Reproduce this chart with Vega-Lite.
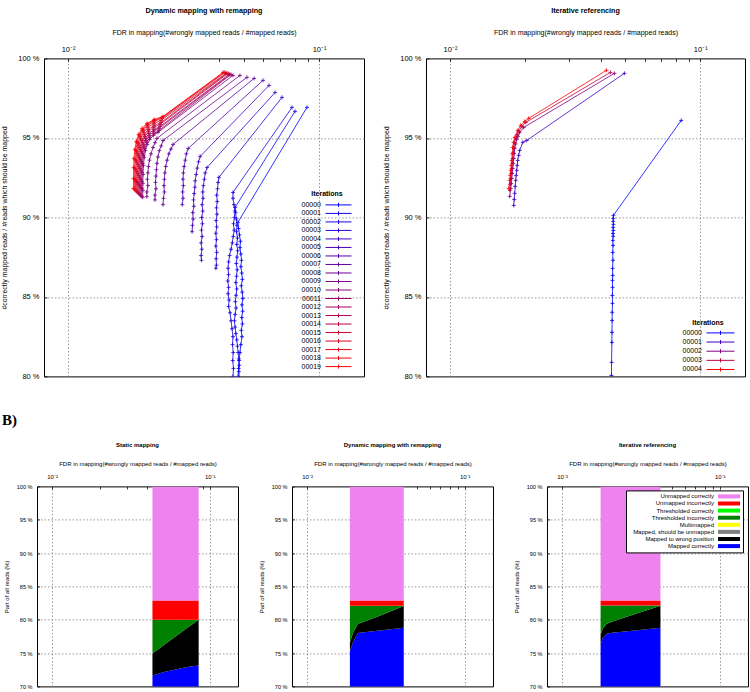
{
"$schema": "https://vega.github.io/schema/vega-lite/v6.json",
"padding": {"left": 0, "top": 6.4, "right": 0, "bottom": 0},
"config": {
  "font": "Liberation Sans",
  "view": {"stroke": "black", "strokeWidth": 1},
  "axis": {"grid": true, "gridDash": [1.5, 2], "gridColor": "#7f7f7f", "gridWidth": 0.8, "domain": false, "tickColor": "black", "tickWidth": 0.8, "labelColor": "black", "titleColor": "black", "titleFontWeight": "normal", "labelFlush": false},
  "title": {"color": "black", "fontWeight": "bold", "anchor": "middle"},
  "legend": {"labelColor": "black", "titleColor": "black"}
},
"datasets": {
"tl": [
{"s":"00000","o":0,"x":0.0895,"y":96.92},{"s":"00000","o":1,"x":0.0475,"y":89.69},{"s":"00000","o":2,"x":0.0478,"y":89.3},{"s":"00000","o":3,"x":0.0482,"y":88.9},{"s":"00000","o":4,"x":0.0486,"y":88.5},{"s":"00000","o":5,"x":0.0484,"y":88.1},{"s":"00000","o":6,"x":0.0488,"y":87.7},{"s":"00000","o":7,"x":0.0491,"y":87.3},{"s":"00000","o":8,"x":0.0488,"y":86.9},{"s":"00000","o":9,"x":0.0492,"y":86.5},{"s":"00000","o":10,"x":0.0495,"y":86.1},{"s":"00000","o":11,"x":0.049,"y":85.7},{"s":"00000","o":12,"x":0.0494,"y":85.3},{"s":"00000","o":13,"x":0.0497,"y":84.9},{"s":"00000","o":14,"x":0.0493,"y":84.5},{"s":"00000","o":15,"x":0.0496,"y":84.1},{"s":"00000","o":16,"x":0.0492,"y":83.7},{"s":"00000","o":17,"x":0.0495,"y":83.3},{"s":"00000","o":18,"x":0.049,"y":82.9},{"s":"00000","o":19,"x":0.0493,"y":82.5},{"s":"00000","o":20,"x":0.0488,"y":82.0},{"s":"00000","o":21,"x":0.0484,"y":81.5},{"s":"00000","o":22,"x":0.048,"y":81.0},{"s":"00000","o":23,"x":0.0478,"y":80.5},{"s":"00000","o":24,"x":0.0476,"y":80.0},
{"s":"00001","o":0,"x":0.0802,"y":96.67},{"s":"00001","o":1,"x":0.0463,"y":90.63},{"s":"00001","o":2,"x":0.0465,"y":90.3},{"s":"00001","o":3,"x":0.0468,"y":89.9},{"s":"00001","o":4,"x":0.0471,"y":89.5},{"s":"00001","o":5,"x":0.0469,"y":89.1},{"s":"00001","o":6,"x":0.0473,"y":88.7},{"s":"00001","o":7,"x":0.047,"y":88.3},{"s":"00001","o":8,"x":0.0474,"y":87.9},{"s":"00001","o":9,"x":0.0471,"y":87.5},{"s":"00001","o":10,"x":0.0468,"y":87.1},{"s":"00001","o":11,"x":0.0472,"y":86.7},{"s":"00001","o":12,"x":0.0469,"y":86.3},{"s":"00001","o":13,"x":0.0466,"y":85.9},{"s":"00001","o":14,"x":0.047,"y":85.5},{"s":"00001","o":15,"x":0.0467,"y":85.1},{"s":"00001","o":16,"x":0.0464,"y":84.7},{"s":"00001","o":17,"x":0.0467,"y":84.3},{"s":"00001","o":18,"x":0.0463,"y":83.9},{"s":"00001","o":19,"x":0.046,"y":83.5},{"s":"00001","o":20,"x":0.0463,"y":83.1},{"s":"00001","o":21,"x":0.0466,"y":82.7},{"s":"00001","o":22,"x":0.047,"y":82.3},{"s":"00001","o":23,"x":0.0473,"y":81.9},{"s":"00001","o":24,"x":0.0476,"y":81.5},{"s":"00001","o":25,"x":0.0479,"y":81.1},{"s":"00001","o":26,"x":0.0481,"y":80.7},{"s":"00001","o":27,"x":0.0479,"y":80.3},{"s":"00001","o":28,"x":0.0481,"y":79.9},
{"s":"00002","o":0,"x":0.078,"y":96.92},{"s":"00002","o":1,"x":0.0454,"y":91.57},{"s":"00002","o":2,"x":0.0454,"y":91.2},{"s":"00002","o":3,"x":0.0458,"y":90.8},{"s":"00002","o":4,"x":0.0462,"y":90.4},{"s":"00002","o":5,"x":0.046,"y":90.0},{"s":"00002","o":6,"x":0.0456,"y":89.6},{"s":"00002","o":7,"x":0.0459,"y":89.2},{"s":"00002","o":8,"x":0.0455,"y":88.8},{"s":"00002","o":9,"x":0.0451,"y":88.4},{"s":"00002","o":10,"x":0.0446,"y":88.0},{"s":"00002","o":11,"x":0.044,"y":87.6},{"s":"00002","o":12,"x":0.0436,"y":87.2},{"s":"00002","o":13,"x":0.0434,"y":86.8},{"s":"00002","o":14,"x":0.0436,"y":86.4},{"s":"00002","o":15,"x":0.0433,"y":86.0},{"s":"00002","o":16,"x":0.0436,"y":85.6},{"s":"00002","o":17,"x":0.0434,"y":85.2},{"s":"00002","o":18,"x":0.0438,"y":84.8},{"s":"00002","o":19,"x":0.0436,"y":84.4},{"s":"00002","o":20,"x":0.0442,"y":84.0},{"s":"00002","o":21,"x":0.0446,"y":83.5},{"s":"00002","o":22,"x":0.045,"y":83.0},{"s":"00002","o":23,"x":0.0454,"y":82.5},{"s":"00002","o":24,"x":0.0452,"y":82.0},{"s":"00002","o":25,"x":0.0455,"y":81.5},{"s":"00002","o":26,"x":0.0453,"y":81.0},{"s":"00002","o":27,"x":0.0456,"y":80.5},{"s":"00002","o":28,"x":0.0454,"y":80.0},
{"s":"00003","o":0,"x":0.0712,"y":97.55},{"s":"00003","o":1,"x":0.0399,"y":92.52},{"s":"00003","o":2,"x":0.0396,"y":92.2},{"s":"00003","o":3,"x":0.0394,"y":91.8},{"s":"00003","o":4,"x":0.0391,"y":91.4},{"s":"00003","o":5,"x":0.0393,"y":91.0},{"s":"00003","o":6,"x":0.039,"y":90.6},{"s":"00003","o":7,"x":0.0392,"y":90.2},{"s":"00003","o":8,"x":0.0389,"y":89.8},{"s":"00003","o":9,"x":0.0391,"y":89.4},{"s":"00003","o":10,"x":0.0388,"y":89.0},{"s":"00003","o":11,"x":0.039,"y":88.6},{"s":"00003","o":12,"x":0.0388,"y":88.2},{"s":"00003","o":13,"x":0.0391,"y":87.8},{"s":"00003","o":14,"x":0.0389,"y":87.4},{"s":"00003","o":15,"x":0.039,"y":87.0},{"s":"00003","o":16,"x":0.0388,"y":86.8},
{"s":"00004","o":0,"x":0.0668,"y":97.86},{"s":"00004","o":1,"x":0.0358,"y":93.14},{"s":"00004","o":2,"x":0.0352,"y":92.8},{"s":"00004","o":3,"x":0.0349,"y":92.4},{"s":"00004","o":4,"x":0.0346,"y":92.0},{"s":"00004","o":5,"x":0.0344,"y":91.6},{"s":"00004","o":6,"x":0.0345,"y":91.2},{"s":"00004","o":7,"x":0.0342,"y":90.8},{"s":"00004","o":8,"x":0.0344,"y":90.4},{"s":"00004","o":9,"x":0.0341,"y":90.0},{"s":"00004","o":10,"x":0.0343,"y":89.6},{"s":"00004","o":11,"x":0.034,"y":89.2},{"s":"00004","o":12,"x":0.0342,"y":88.8},{"s":"00004","o":13,"x":0.0339,"y":88.4},{"s":"00004","o":14,"x":0.0341,"y":88.0},{"s":"00004","o":15,"x":0.0339,"y":87.6},{"s":"00004","o":16,"x":0.034,"y":87.3},
{"s":"00005","o":0,"x":0.0632,"y":98.3},{"s":"00005","o":1,"x":0.0336,"y":93.84},{"s":"00005","o":2,"x":0.0331,"y":93.5},{"s":"00005","o":3,"x":0.0327,"y":93.1},{"s":"00005","o":4,"x":0.0324,"y":92.7},{"s":"00005","o":5,"x":0.0321,"y":92.3},{"s":"00005","o":6,"x":0.032,"y":91.9},{"s":"00005","o":7,"x":0.0318,"y":91.5},{"s":"00005","o":8,"x":0.0316,"y":91.1},{"s":"00005","o":9,"x":0.0317,"y":90.7},{"s":"00005","o":10,"x":0.0314,"y":90.3},{"s":"00005","o":11,"x":0.0315,"y":89.9},{"s":"00005","o":12,"x":0.0313,"y":89.5},{"s":"00005","o":13,"x":0.0312,"y":89.1},
{"s":"00006","o":0,"x":0.0598,"y":98.62},{"s":"00006","o":1,"x":0.0301,"y":94.34},{"s":"00006","o":2,"x":0.0296,"y":94.0},{"s":"00006","o":3,"x":0.0293,"y":93.6},{"s":"00006","o":4,"x":0.029,"y":93.2},{"s":"00006","o":5,"x":0.0288,"y":92.8},{"s":"00006","o":6,"x":0.0287,"y":92.4},{"s":"00006","o":7,"x":0.0288,"y":92.0},{"s":"00006","o":8,"x":0.0286,"y":91.6},{"s":"00006","o":9,"x":0.0287,"y":91.2},{"s":"00006","o":10,"x":0.0285,"y":90.8},
{"s":"00007","o":0,"x":0.0551,"y":98.74},{"s":"00007","o":1,"x":0.0262,"y":94.59},{"s":"00007","o":2,"x":0.0257,"y":94.3},{"s":"00007","o":3,"x":0.0252,"y":94.0},{"s":"00007","o":4,"x":0.0248,"y":93.6},{"s":"00007","o":5,"x":0.0245,"y":93.2},{"s":"00007","o":6,"x":0.0243,"y":92.8},{"s":"00007","o":7,"x":0.0242,"y":92.4},{"s":"00007","o":8,"x":0.0241,"y":92.0},{"s":"00007","o":9,"x":0.0242,"y":91.6},{"s":"00007","o":10,"x":0.024,"y":91.2},{"s":"00007","o":11,"x":0.0239,"y":90.8},
{"s":"00008","o":0,"x":0.0516,"y":98.81},{"s":"00008","o":1,"x":0.0239,"y":94.84},{"s":"00008","o":2,"x":0.0235,"y":94.5},{"s":"00008","o":3,"x":0.0231,"y":94.2},{"s":"00008","o":4,"x":0.0228,"y":93.8},{"s":"00008","o":5,"x":0.0226,"y":93.4},{"s":"00008","o":6,"x":0.0225,"y":93.0},{"s":"00008","o":7,"x":0.0224,"y":92.6},{"s":"00008","o":8,"x":0.0223,"y":92.2},{"s":"00008","o":9,"x":0.0224,"y":91.8},{"s":"00008","o":10,"x":0.0222,"y":91.4},{"s":"00008","o":11,"x":0.0222,"y":91.1},
{"s":"00009","o":0,"x":0.0484,"y":98.93},{"s":"00009","o":1,"x":0.0226,"y":94.97},{"s":"00009","o":2,"x":0.0222,"y":94.7},{"s":"00009","o":3,"x":0.0218,"y":94.4},{"s":"00009","o":4,"x":0.0214,"y":94.0},{"s":"00009","o":5,"x":0.0211,"y":93.6},{"s":"00009","o":6,"x":0.0209,"y":93.2},{"s":"00009","o":7,"x":0.0208,"y":92.8},{"s":"00009","o":8,"x":0.0207,"y":92.4},{"s":"00009","o":9,"x":0.0208,"y":92.0},{"s":"00009","o":10,"x":0.0206,"y":91.6},{"s":"00009","o":11,"x":0.0206,"y":91.3},
{"s":"00010","o":0,"x":0.04541,"y":98.93},{"s":"00010","o":1,"x":0.02282,"y":95.35},{"s":"00010","o":2,"x":0.0219,"y":95.16},{"s":"00010","o":3,"x":0.02116,"y":94.91},{"s":"00010","o":4,"x":0.02067,"y":94.59},{"s":"00010","o":5,"x":0.02033,"y":94.21},{"s":"00010","o":6,"x":0.02011,"y":93.77},{"s":"00010","o":7,"x":0.01997,"y":93.27},{"s":"00010","o":8,"x":0.01989,"y":92.7},{"s":"00010","o":9,"x":0.01986,"y":92.14},{"s":"00010","o":10,"x":0.01985,"y":91.7},{"s":"00010","o":11,"x":0.01983,"y":91.26},
{"s":"00011","o":0,"x":0.04459,"y":98.99},{"s":"00011","o":1,"x":0.02303,"y":95.47},{"s":"00011","o":2,"x":0.02198,"y":95.28},{"s":"00011","o":3,"x":0.02114,"y":95.03},{"s":"00011","o":4,"x":0.02059,"y":94.72},{"s":"00011","o":5,"x":0.02021,"y":94.34},{"s":"00011","o":6,"x":0.01996,"y":93.9},{"s":"00011","o":7,"x":0.0198,"y":93.4},{"s":"00011","o":8,"x":0.01971,"y":92.83},{"s":"00011","o":9,"x":0.01968,"y":92.26},{"s":"00011","o":10,"x":0.01966,"y":91.82},{"s":"00011","o":11,"x":0.01965,"y":91.32},
{"s":"00012","o":0,"x":0.04418,"y":98.99},{"s":"00012","o":1,"x":0.02303,"y":95.6},{"s":"00012","o":2,"x":0.02192,"y":95.41},{"s":"00012","o":3,"x":0.02103,"y":95.16},{"s":"00012","o":4,"x":0.02044,"y":94.84},{"s":"00012","o":5,"x":0.02005,"y":94.47},{"s":"00012","o":6,"x":0.01979,"y":94.03},{"s":"00012","o":7,"x":0.01963,"y":93.52},{"s":"00012","o":8,"x":0.01953,"y":92.96},{"s":"00012","o":9,"x":0.0195,"y":92.39},{"s":"00012","o":10,"x":0.01948,"y":91.89},{"s":"00012","o":11,"x":0.01946,"y":91.38},
{"s":"00013","o":0,"x":0.04378,"y":98.99},{"s":"00013","o":1,"x":0.02325,"y":95.72},{"s":"00013","o":2,"x":0.022,"y":95.53},{"s":"00013","o":3,"x":0.02101,"y":95.28},{"s":"00013","o":4,"x":0.02037,"y":94.97},{"s":"00013","o":5,"x":0.01993,"y":94.59},{"s":"00013","o":6,"x":0.01964,"y":94.15},{"s":"00013","o":7,"x":0.01946,"y":93.65},{"s":"00013","o":8,"x":0.01935,"y":93.08},{"s":"00013","o":9,"x":0.01931,"y":92.52},{"s":"00013","o":10,"x":0.0193,"y":92.01},{"s":"00013","o":11,"x":0.01928,"y":91.45},
{"s":"00014","o":0,"x":0.04338,"y":99.06},{"s":"00014","o":1,"x":0.02325,"y":95.85},{"s":"00014","o":2,"x":0.02194,"y":95.66},{"s":"00014","o":3,"x":0.02091,"y":95.41},{"s":"00014","o":4,"x":0.02024,"y":95.09},{"s":"00014","o":5,"x":0.01978,"y":94.72},{"s":"00014","o":6,"x":0.01948,"y":94.28},{"s":"00014","o":7,"x":0.01929,"y":93.77},{"s":"00014","o":8,"x":0.01917,"y":93.21},{"s":"00014","o":9,"x":0.01914,"y":92.64},{"s":"00014","o":10,"x":0.01912,"y":92.08},{"s":"00014","o":11,"x":0.0191,"y":91.51},
{"s":"00015","o":0,"x":0.04298,"y":99.06},{"s":"00015","o":1,"x":0.02346,"y":95.97},{"s":"00015","o":2,"x":0.02202,"y":95.79},{"s":"00015","o":3,"x":0.02089,"y":95.53},{"s":"00015","o":4,"x":0.02016,"y":95.22},{"s":"00015","o":5,"x":0.01966,"y":94.84},{"s":"00015","o":6,"x":0.01933,"y":94.4},{"s":"00015","o":7,"x":0.01913,"y":93.9},{"s":"00015","o":8,"x":0.01899,"y":93.33},{"s":"00015","o":9,"x":0.01895,"y":92.77},{"s":"00015","o":10,"x":0.01893,"y":92.2},{"s":"00015","o":11,"x":0.01891,"y":91.57},
{"s":"00016","o":0,"x":0.04259,"y":99.06},{"s":"00016","o":1,"x":0.02346,"y":96.1},{"s":"00016","o":2,"x":0.02196,"y":95.91},{"s":"00016","o":3,"x":0.02078,"y":95.66},{"s":"00016","o":4,"x":0.02002,"y":95.35},{"s":"00016","o":5,"x":0.0195,"y":94.97},{"s":"00016","o":6,"x":0.01916,"y":94.53},{"s":"00016","o":7,"x":0.01895,"y":94.03},{"s":"00016","o":8,"x":0.01882,"y":93.46},{"s":"00016","o":9,"x":0.01878,"y":92.89},{"s":"00016","o":10,"x":0.01875,"y":92.26},{"s":"00016","o":11,"x":0.01874,"y":91.64},
{"s":"00017","o":0,"x":0.0422,"y":99.12},{"s":"00017","o":1,"x":0.02368,"y":96.23},{"s":"00017","o":2,"x":0.02204,"y":96.04},{"s":"00017","o":3,"x":0.02077,"y":95.79},{"s":"00017","o":4,"x":0.01994,"y":95.47},{"s":"00017","o":5,"x":0.01938,"y":95.09},{"s":"00017","o":6,"x":0.01901,"y":94.65},{"s":"00017","o":7,"x":0.01879,"y":94.15},{"s":"00017","o":8,"x":0.01865,"y":93.58},{"s":"00017","o":9,"x":0.01861,"y":93.02},{"s":"00017","o":10,"x":0.01858,"y":92.33},{"s":"00017","o":11,"x":0.01856,"y":91.7},
{"s":"00018","o":0,"x":0.04182,"y":99.12},{"s":"00018","o":1,"x":0.02368,"y":96.29},{"s":"00018","o":2,"x":0.02198,"y":96.1},{"s":"00018","o":3,"x":0.02067,"y":95.85},{"s":"00018","o":4,"x":0.01981,"y":95.53},{"s":"00018","o":5,"x":0.01923,"y":95.16},{"s":"00018","o":6,"x":0.01885,"y":94.72},{"s":"00018","o":7,"x":0.01862,"y":94.21},{"s":"00018","o":8,"x":0.01848,"y":93.65},{"s":"00018","o":9,"x":0.01843,"y":93.08},{"s":"00018","o":10,"x":0.01841,"y":92.39},{"s":"00018","o":11,"x":0.01839,"y":91.76},
{"s":"00019","o":0,"x":0.04143,"y":99.12},{"s":"00019","o":1,"x":0.0239,"y":96.35},{"s":"00019","o":2,"x":0.02206,"y":96.16},{"s":"00019","o":3,"x":0.02065,"y":95.91},{"s":"00019","o":4,"x":0.01973,"y":95.6},{"s":"00019","o":5,"x":0.01911,"y":95.22},{"s":"00019","o":6,"x":0.0187,"y":94.78},{"s":"00019","o":7,"x":0.01846,"y":94.28},{"s":"00019","o":8,"x":0.01831,"y":93.71},{"s":"00019","o":9,"x":0.01826,"y":93.14},{"s":"00019","o":10,"x":0.01823,"y":92.45},{"s":"00019","o":11,"x":0.01821,"y":91.82}
],
"tr": [
{"s":"00000","o":0,"x":0.08397,"y":96.1},{"s":"00000","o":1,"x":0.045,"y":90.13},{"s":"00000","o":2,"x":0.04495,"y":89.94},{"s":"00000","o":3,"x":0.0449,"y":89.75},{"s":"00000","o":4,"x":0.045,"y":89.56},{"s":"00000","o":5,"x":0.04485,"y":89.37},{"s":"00000","o":6,"x":0.04495,"y":89.18},{"s":"00000","o":7,"x":0.0448,"y":88.99},{"s":"00000","o":8,"x":0.0449,"y":88.81},{"s":"00000","o":9,"x":0.04475,"y":88.55},{"s":"00000","o":10,"x":0.04485,"y":88.24},{"s":"00000","o":11,"x":0.0447,"y":87.8},{"s":"00000","o":12,"x":0.0448,"y":87.3},{"s":"00000","o":13,"x":0.04465,"y":86.79},{"s":"00000","o":14,"x":0.0447,"y":86.35},{"s":"00000","o":15,"x":0.0446,"y":86.04},{"s":"00000","o":16,"x":0.04465,"y":85.6},{"s":"00000","o":17,"x":0.04455,"y":85.09},{"s":"00000","o":18,"x":0.0446,"y":84.59},{"s":"00000","o":19,"x":0.0445,"y":84.03},{"s":"00000","o":20,"x":0.04445,"y":83.52},{"s":"00000","o":21,"x":0.0444,"y":82.77},{"s":"00000","o":22,"x":0.04435,"y":82.14},{"s":"00000","o":23,"x":0.04425,"y":80.88},{"s":"00000","o":24,"x":0.04418,"y":80.06},
{"s":"00001","o":0,"x":0.04978,"y":99.06},{"s":"00001","o":1,"x":0.02026,"y":94.84},{"s":"00001","o":2,"x":0.01953,"y":94.72},{"s":"00001","o":3,"x":0.01899,"y":94.21},{"s":"00001","o":4,"x":0.01882,"y":93.9},{"s":"00001","o":5,"x":0.01865,"y":93.58},{"s":"00001","o":6,"x":0.01856,"y":93.27},{"s":"00001","o":7,"x":0.01848,"y":92.96},{"s":"00001","o":8,"x":0.01839,"y":92.64},{"s":"00001","o":9,"x":0.01831,"y":92.33},{"s":"00001","o":10,"x":0.01822,"y":91.95},{"s":"00001","o":11,"x":0.01814,"y":91.51},{"s":"00001","o":12,"x":0.01806,"y":91.13},{"s":"00001","o":13,"x":0.01798,"y":90.75},
{"s":"00002","o":0,"x":0.04541,"y":99.06},{"s":"00002","o":1,"x":0.01971,"y":95.66},{"s":"00002","o":2,"x":0.01899,"y":95.35},{"s":"00002","o":3,"x":0.0187,"y":95.1},{"s":"00002","o":4,"x":0.01848,"y":94.91},{"s":"00002","o":5,"x":0.0183,"y":94.62},{"s":"00002","o":6,"x":0.01814,"y":94.34},{"s":"00002","o":7,"x":0.01806,"y":94.02},{"s":"00002","o":8,"x":0.01798,"y":93.71},{"s":"00002","o":9,"x":0.0179,"y":93.4},{"s":"00002","o":10,"x":0.01781,"y":93.08},{"s":"00002","o":11,"x":0.01773,"y":92.77},{"s":"00002","o":12,"x":0.01765,"y":92.45},{"s":"00002","o":13,"x":0.01757,"y":92.13},{"s":"00002","o":14,"x":0.01749,"y":91.82},{"s":"00002","o":15,"x":0.01733,"y":91.32},
{"s":"00003","o":0,"x":0.04378,"y":99.12},{"s":"00003","o":1,"x":0.02007,"y":95.97},{"s":"00003","o":2,"x":0.01935,"y":95.72},{"s":"00003","o":3,"x":0.01882,"y":95.41},{"s":"00003","o":4,"x":0.01855,"y":95.2},{"s":"00003","o":5,"x":0.01831,"y":94.97},{"s":"00003","o":6,"x":0.01812,"y":94.7},{"s":"00003","o":7,"x":0.01798,"y":94.4},{"s":"00003","o":8,"x":0.0179,"y":94.05},{"s":"00003","o":9,"x":0.01781,"y":93.71},{"s":"00003","o":10,"x":0.01773,"y":93.4},{"s":"00003","o":11,"x":0.01765,"y":93.08},{"s":"00003","o":12,"x":0.01757,"y":92.77},{"s":"00003","o":13,"x":0.01749,"y":92.45},{"s":"00003","o":14,"x":0.01741,"y":92.08},{"s":"00003","o":15,"x":0.01733,"y":91.7},
{"s":"00004","o":0,"x":0.0422,"y":99.25},{"s":"00004","o":1,"x":0.02063,"y":96.23},{"s":"00004","o":2,"x":0.01989,"y":96.04},{"s":"00004","o":3,"x":0.01917,"y":95.79},{"s":"00004","o":4,"x":0.01865,"y":95.47},{"s":"00004","o":5,"x":0.01814,"y":95.03},{"s":"00004","o":6,"x":0.01795,"y":94.72},{"s":"00004","o":7,"x":0.01781,"y":94.4},{"s":"00004","o":8,"x":0.01773,"y":94.0},{"s":"00004","o":9,"x":0.01765,"y":93.58},{"s":"00004","o":10,"x":0.01757,"y":93.27},{"s":"00004","o":11,"x":0.01749,"y":92.96},{"s":"00004","o":12,"x":0.01741,"y":92.64},{"s":"00004","o":13,"x":0.01733,"y":92.33},{"s":"00004","o":14,"x":0.01717,"y":91.82}
],
"bs": [
{"x":0.04329,"c":"Mapped correctly","k":1,"v":71.65},{"x":0.04329,"c":"Mapped to wrong position","k":2,"v":3.3},{"x":0.04329,"c":"Thresholded incorrectly","k":5,"v":5.05},{"x":0.04329,"c":"Unmapped incorrectly","k":7,"v":2.9},{"x":0.04329,"c":"Unmapped correctly","k":8,"v":17.1},
{"x":0.05124,"c":"Mapped correctly","k":1,"v":72.15},{"x":0.05124,"c":"Mapped to wrong position","k":2,"v":4.05},{"x":0.05124,"c":"Thresholded incorrectly","k":5,"v":3.8},{"x":0.05124,"c":"Unmapped incorrectly","k":7,"v":2.9},{"x":0.05124,"c":"Unmapped correctly","k":8,"v":17.1},
{"x":0.06065,"c":"Mapped correctly","k":1,"v":72.55},{"x":0.06065,"c":"Mapped to wrong position","k":2,"v":4.95},{"x":0.06065,"c":"Thresholded incorrectly","k":5,"v":2.5},{"x":0.06065,"c":"Unmapped incorrectly","k":7,"v":2.9},{"x":0.06065,"c":"Unmapped correctly","k":8,"v":17.1},
{"x":0.07179,"c":"Mapped correctly","k":1,"v":72.9},{"x":0.07179,"c":"Mapped to wrong position","k":2,"v":5.85},{"x":0.07179,"c":"Thresholded incorrectly","k":5,"v":1.25},{"x":0.07179,"c":"Unmapped incorrectly","k":7,"v":2.9},{"x":0.07179,"c":"Unmapped correctly","k":8,"v":17.1},
{"x":0.085,"c":"Mapped correctly","k":1,"v":73.15},{"x":0.085,"c":"Mapped to wrong position","k":2,"v":6.85},{"x":0.085,"c":"Thresholded incorrectly","k":5,"v":0},{"x":0.085,"c":"Unmapped incorrectly","k":7,"v":2.9},{"x":0.085,"c":"Unmapped correctly","k":8,"v":17.1}
],
"bd": [
{"x":0.01868,"c":"Mapped correctly","k":1,"v":75.3},{"x":0.01868,"c":"Mapped to wrong position","k":2,"v":1.3},{"x":0.01868,"c":"Thresholded incorrectly","k":5,"v":5.5},{"x":0.01868,"c":"Unmapped incorrectly","k":7,"v":0.8},{"x":0.01868,"c":"Unmapped correctly","k":8,"v":17.1},
{"x":0.01952,"c":"Mapped correctly","k":1,"v":76.6},{"x":0.01952,"c":"Mapped to wrong position","k":2,"v":1.4},{"x":0.01952,"c":"Thresholded incorrectly","k":5,"v":4.1},{"x":0.01952,"c":"Unmapped incorrectly","k":7,"v":0.8},{"x":0.01952,"c":"Unmapped correctly","k":8,"v":17.1},
{"x":0.02099,"c":"Mapped correctly","k":1,"v":78.0},{"x":0.02099,"c":"Mapped to wrong position","k":2,"v":1.4},{"x":0.02099,"c":"Thresholded incorrectly","k":5,"v":2.7},{"x":0.02099,"c":"Unmapped incorrectly","k":7,"v":0.8},{"x":0.02099,"c":"Unmapped correctly","k":8,"v":17.1},
{"x":0.02224,"c":"Mapped correctly","k":1,"v":78.1},{"x":0.02224,"c":"Mapped to wrong position","k":2,"v":1.5},{"x":0.02224,"c":"Thresholded incorrectly","k":5,"v":2.5},{"x":0.02224,"c":"Unmapped incorrectly","k":7,"v":0.8},{"x":0.02224,"c":"Unmapped correctly","k":8,"v":17.1},
{"x":0.02892,"c":"Mapped correctly","k":1,"v":78.4},{"x":0.02892,"c":"Mapped to wrong position","k":2,"v":2.2},{"x":0.02892,"c":"Thresholded incorrectly","k":5,"v":1.5},{"x":0.02892,"c":"Unmapped incorrectly","k":7,"v":0.8},{"x":0.02892,"c":"Unmapped correctly","k":8,"v":17.1},
{"x":0.04102,"c":"Mapped correctly","k":1,"v":78.8},{"x":0.04102,"c":"Mapped to wrong position","k":2,"v":3.25},{"x":0.04102,"c":"Thresholded incorrectly","k":5,"v":0.05},{"x":0.04102,"c":"Unmapped incorrectly","k":7,"v":0.8},{"x":0.04102,"c":"Unmapped correctly","k":8,"v":17.1}
],
"bi": [
{"x":0.01754,"c":"Mapped correctly","k":1,"v":76.3},{"x":0.01754,"c":"Mapped to wrong position","k":2,"v":1.5},{"x":0.01754,"c":"Thresholded incorrectly","k":5,"v":4.35},{"x":0.01754,"c":"Unmapped incorrectly","k":7,"v":0.75},{"x":0.01754,"c":"Unmapped correctly","k":8,"v":17.1},
{"x":0.01814,"c":"Mapped correctly","k":1,"v":77.3},{"x":0.01814,"c":"Mapped to wrong position","k":2,"v":1.4},{"x":0.01814,"c":"Thresholded incorrectly","k":5,"v":3.45},{"x":0.01814,"c":"Unmapped incorrectly","k":7,"v":0.75},{"x":0.01814,"c":"Unmapped correctly","k":8,"v":17.1},
{"x":0.01923,"c":"Mapped correctly","k":1,"v":77.9},{"x":0.01923,"c":"Mapped to wrong position","k":2,"v":1.5},{"x":0.01923,"c":"Thresholded incorrectly","k":5,"v":2.75},{"x":0.01923,"c":"Unmapped incorrectly","k":7,"v":0.75},{"x":0.01923,"c":"Unmapped correctly","k":8,"v":17.1},
{"x":0.02069,"c":"Mapped correctly","k":1,"v":78.05},{"x":0.02069,"c":"Mapped to wrong position","k":2,"v":1.65},{"x":0.02069,"c":"Thresholded incorrectly","k":5,"v":2.45},{"x":0.02069,"c":"Unmapped incorrectly","k":7,"v":0.75},{"x":0.02069,"c":"Unmapped correctly","k":8,"v":17.1},
{"x":0.02689,"c":"Mapped correctly","k":1,"v":78.3},{"x":0.02689,"c":"Mapped to wrong position","k":2,"v":2.3},{"x":0.02689,"c":"Thresholded incorrectly","k":5,"v":1.55},{"x":0.02689,"c":"Unmapped incorrectly","k":7,"v":0.75},{"x":0.02689,"c":"Unmapped correctly","k":8,"v":17.1},
{"x":0.04205,"c":"Mapped correctly","k":1,"v":78.8},{"x":0.04205,"c":"Mapped to wrong position","k":2,"v":3.3},{"x":0.04205,"c":"Thresholded incorrectly","k":5,"v":0.05},{"x":0.04205,"c":"Unmapped incorrectly","k":7,"v":0.75},{"x":0.04205,"c":"Unmapped correctly","k":8,"v":17.1}
]
},
"vconcat": [
 {"hconcat": [
   {"width": 1, "height": 1, "view": {"stroke": null}, "data": {"values": [{"a": 1}]}, "mark": "text", "encoding": {"text": {"value": ""}}},
   {"hconcat": [
     {"width": 320, "height": 318,
      "title": {"text": "Dynamic mapping with remapping", "fontSize": 7.2, "offset": 14},
      "data": {"name": "tl"},
      "encoding": {
        "x": {"field": "x", "type": "quantitative", "scale": {"type": "log", "domain": [0.00802, 0.151], "nice": false},
              "axis": {"orient": "top", "values": [0.01,0.02,0.03,0.04,0.05,0.06,0.07,0.08,0.09,0.1], "labelExpr": "datum.value == 0.01 ? '10⁻²' : (datum.value == 0.1 ? '10⁻¹' : '')", "gridOpacity": {"condition": {"test": "datum.value == 0.01 || datum.value == 0.1", "value": 1}, "value": 0}, "tickSize": -3, "labelPadding": 10, "labelBaseline": "alphabetic", "labelFontSize": 7.5, "titleFontSize": 7, "titlePadding": 10},
              "title": "FDR in mapping(#wrongly mapped reads / #mapped reads)"},
        "y": {"field": "y", "type": "quantitative", "scale": {"domain": [80, 100], "nice": false, "zero": false},
              "axis": {"values": [80,85,90,95,100], "labelExpr": "datum.value + ' %'", "gridOpacity": {"condition": {"test": "datum.value > 80 && datum.value < 100", "value": 1}, "value": 0}, "tickSize": -3, "labelPadding": 8, "labelFontSize": 7.5, "titleFontSize": 7, "titlePadding": 10},
              "title": "#correctly mapped reads / #reads which should be mapped"},
        "color": {"field": "s", "type": "nominal",
              "scale": {"domain": ["00000","00001","00002","00003","00004","00005","00006","00007","00008","00009","00010","00011","00012","00013","00014","00015","00016","00017","00018","00019"],
                        "range": ["#0000ff","#0d00f2","#1b00e4","#2800d7","#3600c9","#4300bc","#5100af","#5e00a1","#6b0094","#790086","#860079","#94006b","#a1005e","#af0051","#bc0043","#c90036","#d70028","#e4001b","#f2000d","#ff0000"]},
              "legend": {"orient": "none", "legendX": 256, "legendY": 132, "title": "Iterations", "titleFontSize": 7, "titleFontWeight": "bold", "titleAnchor": "middle", "titlePadding": 4, "symbolType": "M-4.33,0H4.33M0,-0.667V0.667", "symbolSize": 36, "symbolOffset": 35, "symbolStrokeWidth": 1, "symbolFillColor": "transparent", "labelFontSize": 7, "labelAlign": "right", "labelOffset": -21, "rowPadding": -0.49, "padding": 0}}
      },
      "layer": [
        {"mark": {"type": "line", "strokeWidth": 0.8, "clip": true}, "encoding": {"order": {"field": "o", "type": "quantitative"}}},
        {"mark": {"type": "point", "shape": "M-1,0H1M0,-1V1", "size": 16, "filled": false, "strokeWidth": 0.8, "opacity": 1, "clip": true}}
      ]
     },
     {"width": 319, "height": 318,
      "title": {"text": "Iterative referencing", "fontSize": 7.2, "offset": 14},
      "data": {"name": "tr"},
      "encoding": {
        "x": {"field": "x", "type": "quantitative", "scale": {"type": "log", "domain": [0.00802, 0.151], "nice": false},
              "axis": {"orient": "top", "values": [0.01,0.02,0.03,0.04,0.05,0.06,0.07,0.08,0.09,0.1], "labelExpr": "datum.value == 0.01 ? '10⁻²' : (datum.value == 0.1 ? '10⁻¹' : '')", "gridOpacity": {"condition": {"test": "datum.value == 0.01 || datum.value == 0.1", "value": 1}, "value": 0}, "tickSize": -3, "labelPadding": 10, "labelBaseline": "alphabetic", "labelFontSize": 7.5, "titleFontSize": 7, "titlePadding": 10},
              "title": "FDR in mapping(#wrongly mapped reads / #mapped reads)"},
        "y": {"field": "y", "type": "quantitative", "scale": {"domain": [80, 100], "nice": false, "zero": false},
              "axis": {"values": [80,85,90,95,100], "labelExpr": "datum.value + ' %'", "gridOpacity": {"condition": {"test": "datum.value > 80 && datum.value < 100", "value": 1}, "value": 0}, "tickSize": -3, "labelPadding": 8, "labelFontSize": 7.5, "titleFontSize": 7, "titlePadding": 10},
              "title": "#correctly mapped reads / #reads which should be mapped"},
        "color": {"field": "s", "type": "nominal",
              "scale": {"domain": ["00000","00001","00002","00003","00004"], "range": ["#0000ff","#4000bf","#800080","#bf0040","#ff0000"]},
              "legend": {"orient": "none", "legendX": 254, "legendY": 261, "title": "Iterations", "titleFontSize": 7, "titleFontWeight": "bold", "titleAnchor": "middle", "titlePadding": 3, "symbolType": "M-7,0H7M0,-1V1", "symbolSize": 16, "symbolOffset": 37, "symbolStrokeWidth": 1, "symbolFillColor": "transparent", "labelFontSize": 7, "labelAlign": "right", "labelOffset": -22, "rowPadding": 0.15, "padding": 0}}
      },
      "layer": [
        {"mark": {"type": "line", "strokeWidth": 0.8, "clip": true}, "encoding": {"order": {"field": "o", "type": "quantitative"}}},
        {"mark": {"type": "point", "shape": "M-1,0H1M0,-1V1", "size": 16, "filled": false, "strokeWidth": 0.8, "opacity": 1, "clip": true}}
      ]
     }
   ], "spacing": 62, "bounds": "flush", "resolve": {"scale": {"color": "independent"}, "legend": {"color": "independent"}}}
 ], "spacing": 6, "bounds": "flush", "resolve": {"scale": {"color": "independent"}, "legend": {"color": "independent"}}},
 {"hconcat": [
   {"width": 201, "height": 200,
    "title": {"text": "Static mapping", "fontSize": 6, "offset": 12},
    "data": {"name": "bs"},
    "mark": {"type": "area", "clip": true},
    "encoding": {
      "x": {"field": "x", "type": "quantitative", "scale": {"type": "log", "domain": [0.00802, 0.151], "nice": false},
            "axis": {"orient": "top", "values": [0.01,0.02,0.03,0.04,0.05,0.06,0.07,0.08,0.09,0.1], "labelExpr": "datum.value == 0.01 ? '10⁻²' : (datum.value == 0.1 ? '10⁻¹' : '')", "gridOpacity": {"condition": {"test": "datum.value == 0.01 || datum.value == 0.1", "value": 1}, "value": 0}, "tickSize": -2.5, "labelPadding": 10.5, "labelBaseline": "alphabetic", "labelFontSize": 6, "titleFontSize": 6, "titlePadding": 7},
            "title": "FDR in mapping(#wrongly mapped reads / #mapped reads)"},
      "y": {"field": "v", "type": "quantitative", "stack": "zero", "scale": {"domain": [70, 100], "nice": false, "zero": false},
            "axis": {"values": [70,75,80,85,90,95,100], "labelExpr": "datum.value + ' %'", "gridOpacity": {"condition": {"test": "datum.value > 70 && datum.value < 100", "value": 1}, "value": 0}, "tickSize": -2.5, "labelPadding": 7.5, "labelFontSize": 5.6, "titleFontSize": 6, "titlePadding": 7},
            "title": "Part of all reads (%)"},
      "color": {"field": "c", "type": "nominal", "scale": {"domain": ["Unmapped correctly","Unmapped incorrectly","Thresholded correctly","Thresholded incorrectly","Multimapped","Mapped, should be unmapped","Mapped to wrong position","Mapped correctly"], "range": ["#ee82ee","#ff0000","#00ff00","#008000","#ffff00","#808080","#000000","#0000ff"]}, "legend": null},
      "order": {"field": "k", "type": "quantitative"}
    }
   },
   {"width": 201, "height": 200,
    "title": {"text": "Dynamic mapping with remapping", "fontSize": 6, "offset": 12},
    "data": {"name": "bd"},
    "mark": {"type": "area", "clip": true},
    "encoding": {
      "x": {"field": "x", "type": "quantitative", "scale": {"type": "log", "domain": [0.00802, 0.151], "nice": false},
            "axis": {"orient": "top", "values": [0.01,0.02,0.03,0.04,0.05,0.06,0.07,0.08,0.09,0.1], "labelExpr": "datum.value == 0.01 ? '10⁻²' : (datum.value == 0.1 ? '10⁻¹' : '')", "gridOpacity": {"condition": {"test": "datum.value == 0.01 || datum.value == 0.1", "value": 1}, "value": 0}, "tickSize": -2.5, "labelPadding": 10.5, "labelBaseline": "alphabetic", "labelFontSize": 6, "titleFontSize": 6, "titlePadding": 7},
            "title": "FDR in mapping(#wrongly mapped reads / #mapped reads)"},
      "y": {"field": "v", "type": "quantitative", "stack": "zero", "scale": {"domain": [70, 100], "nice": false, "zero": false},
            "axis": {"values": [70,75,80,85,90,95,100], "labelExpr": "datum.value + ' %'", "gridOpacity": {"condition": {"test": "datum.value > 70 && datum.value < 100", "value": 1}, "value": 0}, "tickSize": -2.5, "labelPadding": 7.5, "labelFontSize": 5.6, "titleFontSize": 6, "titlePadding": 7},
            "title": "Part of all reads (%)"},
      "color": {"field": "c", "type": "nominal", "scale": {"domain": ["Unmapped correctly","Unmapped incorrectly","Thresholded correctly","Thresholded incorrectly","Multimapped","Mapped, should be unmapped","Mapped to wrong position","Mapped correctly"], "range": ["#ee82ee","#ff0000","#00ff00","#008000","#ffff00","#808080","#000000","#0000ff"]}, "legend": null},
      "order": {"field": "k", "type": "quantitative"}
    }
   },
   {"width": 201, "height": 200,
    "title": {"text": "Iterative referencing", "fontSize": 6, "offset": 12},
    "data": {"name": "bi"},
    "mark": {"type": "area", "clip": true},
    "encoding": {
      "x": {"field": "x", "type": "quantitative", "scale": {"type": "log", "domain": [0.00802, 0.151], "nice": false},
            "axis": {"orient": "top", "values": [0.01,0.02,0.03,0.04,0.05,0.06,0.07,0.08,0.09,0.1], "labelExpr": "datum.value == 0.01 ? '10⁻²' : (datum.value == 0.1 ? '10⁻¹' : '')", "gridOpacity": {"condition": {"test": "datum.value == 0.01 || datum.value == 0.1", "value": 1}, "value": 0}, "tickSize": -2.5, "labelPadding": 10.5, "labelBaseline": "alphabetic", "labelFontSize": 6, "titleFontSize": 6, "titlePadding": 7},
            "title": "FDR in mapping(#wrongly mapped reads / #mapped reads)"},
      "y": {"field": "v", "type": "quantitative", "stack": "zero", "scale": {"domain": [70, 100], "nice": false, "zero": false},
            "axis": {"values": [70,75,80,85,90,95,100], "labelExpr": "datum.value + ' %'", "gridOpacity": {"condition": {"test": "datum.value > 70 && datum.value < 100", "value": 1}, "value": 0}, "tickSize": -2.5, "labelPadding": 7.5, "labelFontSize": 5.6, "titleFontSize": 6, "titlePadding": 7},
            "title": "Part of all reads (%)"},
      "color": {"field": "c", "type": "nominal", "scale": {"domain": ["Unmapped correctly","Unmapped incorrectly","Thresholded correctly","Thresholded incorrectly","Multimapped","Mapped, should be unmapped","Mapped to wrong position","Mapped correctly"], "range": ["#ee82ee","#ff0000","#00ff00","#008000","#ffff00","#808080","#000000","#0000ff"]},
            "legend": {"orient": "none", "legendX": 79, "legendY": 4, "title": null, "symbolType": "M-5.5,-1H5.5V1H-5.5Z", "symbolSize": 16, "symbolOffset": 97, "symbolStrokeWidth": 0, "labelFontSize": 6, "labelAlign": "right", "labelOffset": -18, "rowPadding": 1.1, "padding": 3, "strokeColor": "black", "fillColor": "white"}},
      "order": {"field": "k", "type": "quantitative"}
    }
   }
 ], "spacing": 54, "bounds": "flush",
 "title": {"text": "B)", "anchor": "start", "frame": "group", "font": "Liberation Serif", "fontSize": 15, "fontWeight": "bold", "dx": -35, "offset": 13.5},
 "resolve": {"scale": {"color": "independent"}, "legend": {"color": "independent"}}}
],
"spacing": 33, "bounds": "full",
"resolve": {"scale": {"color": "independent"}, "legend": {"color": "independent"}}
}
